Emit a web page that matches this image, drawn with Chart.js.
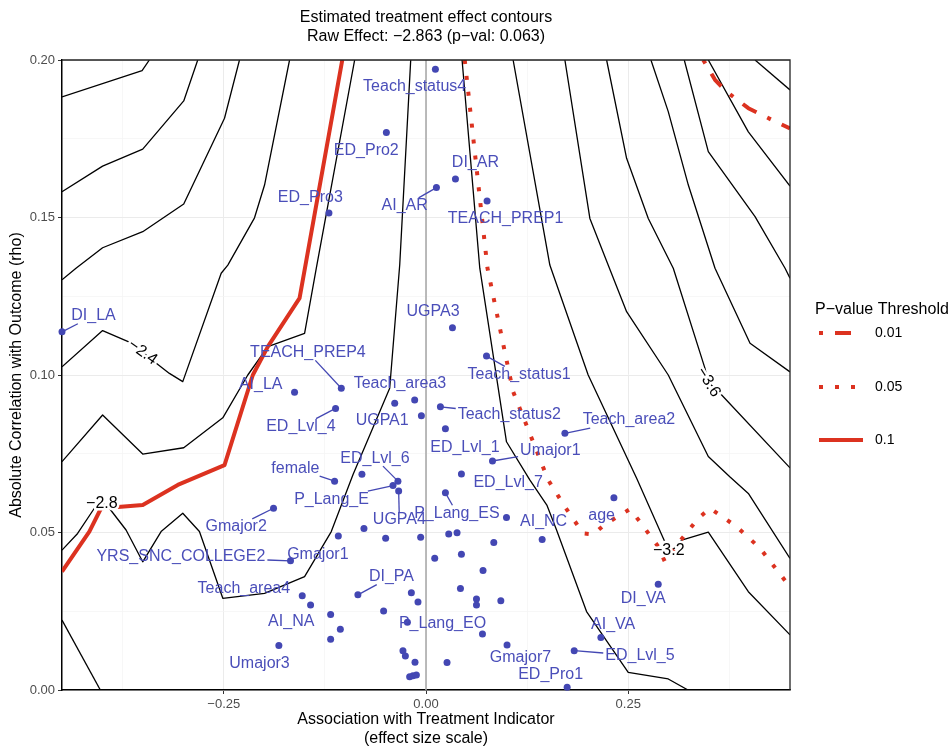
<!DOCTYPE html>
<html><head><meta charset="utf-8">
<script src="https://cdn.jsdelivr.net/npm/chart.js@4"></script>
<style>html,body{margin:0;padding:0;background:#fff}#wrap{width:951px;height:748px}</style>
</head><body><div id="wrap"><canvas id="c" width="951" height="748"></canvas></div>
<script>
// ---------------- DATA ----------------
const covName = ['Teach_status4','ED_Pro2','DI_AR','AI_AR','TEACH_PREP1','ED_Pro3','DI_LA','UGPA3','Teach_status1','TEACH_PREP4',
 'AI_LA','Teach_area3','UGPA1','','Teach_status2','ED_Lvl_4','Teach_area2','ED_Lvl_1','Umajor1','ED_Lvl_7',
 '','female','ED_Lvl_6','P_Lang_E','UGPA4','P_Lang_ES','age','Gmajor2','','',
 'Gmajor1','','','','','','AI_NC','YRS_SNC_COLLEGE2','','',
 '','DI_PA','','','','','','','','',
 'Teach_area4','AI_NA','','','P_Lang_EO','','Gmajor7','','','',
 '','','','','Umajor3','DI_VA','AI_VA','ED_Lvl_5','ED_Pro1'];
const treatAssoc = [0.0116,-0.049,0.0364,0.0129,0.0755,-0.12,-0.45,0.0327,0.0748,-0.1047,
 -0.1625,-0.014,-0.0387,-0.0057,0.0178,-0.1118,0.1717,0.024,0.0822,0.0438,
 -0.0792,-0.113,-0.0347,-0.0408,-0.0338,0.024,0.2323,-0.1885,0.0995,-0.0767,
 -0.1084,-0.0499,-0.0066,0.0281,0.0384,0.0838,0.1436,-0.1675,0.0108,0.0438,
 0.0705,-0.0842,-0.0181,-0.0099,0.0426,0.0624,0.0624,0.0925,-0.0524,-0.1179,
 -0.153,-0.1427,-0.1059,-0.1179,-0.023,0.0698,0.1002,-0.0285,-0.0255,-0.0136,
 0.026,-0.0202,-0.0161,-0.0119,-0.1819,0.2871,0.2162,0.1832,0.1745];
const outcomeCorr = [0.1971,0.1770,0.1622,0.1595,0.1552,0.1514,0.1137,0.1150,0.1060,0.0958,
 0.0945,0.0921,0.0910,0.0871,0.0899,0.0894,0.0815,0.0829,0.0727,0.0686,
 0.0685,0.0663,0.0663,0.0649,0.0632,0.0626,0.0610,0.0577,0.0548,0.0513,
 0.0489,0.0482,0.0485,0.0495,0.0499,0.0468,0.0478,0.0410,0.0418,0.0431,
 0.0379,0.0302,0.0309,0.0279,0.0322,0.0289,0.0270,0.0283,0.0251,0.0240,
 0.0299,0.0270,0.0193,0.0161,0.0215,0.0178,0.0143,0.0125,0.0108,0.0088,
 0.0087,0.0042,0.0045,0.0048,0.0141,0.0336,0.0167,0.0125,0.0009];

// repelled label anchors (data units)
const labelName = ['Teach_status4','ED_Pro2','DI_AR','AI_AR','TEACH_PREP1','ED_Pro3','DI_LA','UGPA3','Teach_status1','TEACH_PREP4',
 'AI_LA','Teach_area3','UGPA1','Teach_status2','ED_Lvl_4','Teach_area2','ED_Lvl_1','Umajor1','ED_Lvl_7','female',
 'ED_Lvl_6','P_Lang_E','UGPA4','P_Lang_ES','age','Gmajor2','AI_NC','YRS_SNC_COLLEGE2','Gmajor1','Teach_area4',
 'AI_NA','Umajor3','DI_PA','P_Lang_EO','Gmajor7','ED_Pro1','DI_VA','AI_VA','ED_Lvl_5'];
const labelX = [-0.014,-0.0738,0.0611,-0.0264,0.0984,-0.143,-0.411,0.0087,0.1151,-0.146,
 -0.2043,-0.0322,-0.0542,0.103,-0.1547,0.2509,0.0481,0.1537,0.1015,-0.1615,
 -0.0631,-0.1168,-0.0329,0.0382,0.2171,-0.2347,0.1454,-0.303,-0.1337,-0.2252,
 -0.1666,-0.2058,-0.0427,0.0204,0.1168,0.1541,0.2686,0.2314,0.2645];
const labelY = [0.1915,0.1711,0.1675,0.1537,0.1497,0.1563,0.1188,0.1201,0.1002,0.1072,
 0.0968,0.0974,0.0854,0.0875,0.0836,0.0857,0.0769,0.0759,0.0659,0.0704,
 0.0736,0.0606,0.0540,0.0561,0.0553,0.0518,0.0534,0.0423,0.0429,0.0323,
 0.0217,0.0085,0.0360,0.0212,0.0103,0.0050,0.0291,0.0209,0.0108];
const labelSegment = [0,0,0,1,0,0,1,0,1,1, 0,0,0,1,1,1,0,1,0,1, 1,1,1,1,0,1,0,1,0,0, 0,0,1,0,0,0,0,0,1];

// contour lines of the estimated effect
const contour_m1_8 = [[-0.45,0.1883],[-0.351,0.1966],[-0.342,0.2]];
const contour_m2_0 = [[-0.45,0.1582],[-0.3998,0.1663],[-0.3502,0.1717],[-0.2995,0.187],[-0.2822,0.2]];
const contour_m2_2 = [[-0.45,0.1302],[-0.4327,0.1339],[-0.3998,0.1404],[-0.3502,0.1455],[-0.2995,0.1543],[-0.2491,0.1815],[-0.2306,0.2]];
const contour_m2_4 = [[-0.45,0.1026],[-0.3998,0.1141],[-0.3646,0.1102],[-0.3358,0.1042],[-0.3172,0.1005],[-0.3007,0.0979],[-0.2532,0.1323],[-0.245,0.1349],[-0.212,0.1499],[-0.1996,0.1603],[-0.1687,0.2]];
const contour_m2_6 = [[-0.45,0.0725],[-0.3998,0.0873],[-0.3502,0.0749],[-0.2995,0.0769],[-0.2512,0.0864],[-0.2203,0.1],[-0.1955,0.109],[-0.1501,0.1132],[-0.1356,0.1339],[-0.0882,0.2]];
const contour_m2_8 = [[-0.45,0.0444],[-0.4307,0.0497],[-0.41,0.0577],[-0.3998,0.0593],[-0.3915,0.0577],[-0.3708,0.0508],[-0.3502,0.0407],[-0.3275,0.0503],[-0.3007,0.0561],[-0.2801,0.0503],[-0.2512,0.0291],[-0.1996,0.0307],[-0.1501,0.036],[-0.1171,0.0503],[-0.0903,0.0683],[-0.0449,0.0958],[-0.0325,0.1349],[-0.0189,0.2]];
const contour_m3_0a = [[-0.45,0.0222],[-0.4026,0]];
const contour_m3_0 = [[0.0446,0.2],[0.0665,0.1339],[0.0995,0.0788],[0.1283,0.0667],[0.1494,0.0587],[0.1614,0.0508],[0.1985,0.0249],[0.25,0.0056],[0.2995,0.0035],[0.3239,0]];
const contour_m3_2 = [[0.1077,0.2],[0.1531,0.1349],[0.2005,0.1],[0.2604,0.0672],[0.2933,0.0482],[0.3016,0.0435],[0.3161,0.0476],[0.349,0.0501],[0.3985,0.0312],[0.45,0.0175]];
const contour_m3_4 = [[0.1717,0.2],[0.2026,0.1497],[0.2252,0.1349],[0.248,0.1201],[0.2995,0.1],[0.349,0.0741],[0.3759,0.0676],[0.3985,0.0624],[0.45,0.0418]];
const contour_m3_6 = [[0.2233,0.2],[0.248,0.1688],[0.2748,0.1497],[0.3057,0.1339],[0.3449,0.1021],[0.3486,0.0978],[0.3635,0.0942],[0.45,0.0705]];
const contour_m3_8 = [[0.2781,0.2],[0.2995,0.1836],[0.3243,0.1603],[0.3573,0.1339],[0.4006,0.1101],[0.45,0.101]];
const contour_m4_0 = [[0.3193,0.2],[0.349,0.1709],[0.4068,0.1503],[0.4439,0.1339],[0.45,0.1307]];
const contour_m4_2 = [[0.349,0.2],[0.3985,0.1772],[0.45,0.16]];
const contour_m4_4 = [[0.4068,0.2],[0.45,0.1905]];

// p-value threshold contours
const pval_001 = [[0.3428,0.2],[0.3573,0.1937],[0.3718,0.1899],[0.3985,0.1847],[0.4275,0.181],[0.45,0.1783]];
const pval_005 = [[0.0479,0.2],[0.076,0.1339],[0.0871,0.1201],[0.1077,0.0947],[0.1324,0.0788],[0.151,0.0667],[0.1717,0.0582],[0.1943,0.0497],[0.2067,0.0494],[0.2212,0.0526],[0.2521,0.0574],[0.2645,0.0534],[0.2871,0.0455],[0.2954,0.0407],[0.3119,0.0466],[0.3366,0.0545],[0.3511,0.0577],[0.3842,0.0518],[0.413,0.045],[0.45,0.0327]];
const pval_010 = [[-0.45,0.0376],[-0.4162,0.0503],[-0.4017,0.0577],[-0.377,0.0582],[-0.3502,0.0587],[-0.3069,0.0651],[-0.2491,0.0714],[-0.2141,0.1],[-0.1955,0.109],[-0.1563,0.1244],[-0.1035,0.2]];
const pThresholdLabels = ['0.01','0.05','0.1'];

// contour text labels
const contourLabelText = ['−2.4','−2.8','−3.2','−3.6'];
const contourLabelX = [-0.3502,-0.4007,0.3001,0.349];
const contourLabelY = [0.1072,0.0593,0.0441,0.0977];

// axes
const xMajorTicks = [-0.25,0,0.25];
const xTickLabels = ['−0.25','0.00','0.25'];
const xMinorTicks = [-0.375,-0.125,0.125,0.375];
const yMajorTicks = [0,0.05,0.1,0.15,0.2];
const yTickLabels = ['0.00','0.05','0.10','0.15','0.20'];
const yMinorTicks = [0.025,0.075,0.125,0.175];

const titleLines = ['Estimated treatment effect contours','Raw Effect: −2.863 (p−val: 0.063)'];
const xTitleLines = ['Association with Treatment Indicator','(effect size scale)'];
const yTitle = 'Absolute Correlation with Outcome (rho)';
const legendTitle = 'P−value Threshold';

// ---------------- STYLE ----------------
const FONT = '"Liberation Sans", Arial, Helvetica, sans-serif';
const BLUE = '#4347B3';
const BLUE_TXT = '#4A4EB9';
const RED = '#DC3220';
const DASH_01 = [4,12,16,12];
const DASH_05 = [4,12];
const contourAngles = [35, 0, 0, 58];

const isMajor = (arr, v) => arr.some(m => Math.abs(m - v) < 1e-9);

function lineDS(data, color, width, dash, order){
  return {data: data.map(p => ({x:p[0], y:p[1]})), showLine:true, borderColor:color, borderWidth:width,
    borderDash:dash||[], borderCapStyle:'butt', borderJoinStyle:'round', pointRadius:0, pointHoverRadius:0,
    backgroundColor:color, fill:false, tension:0, order:order};
}

const datasets = [
  {data: treatAssoc.map((x,i)=>({x:x, y:outcomeCorr[i]})), pointRadius:3.5, pointHoverRadius:3.5,
   backgroundColor:BLUE, borderWidth:0, showLine:false, order:0, clip:false},
  lineDS(pval_010, RED, 4, [], 1),
  lineDS(pval_005, RED, 4, DASH_05, 1),
  lineDS(pval_001, RED, 4, DASH_01, 1),
];
[contour_m1_8,contour_m2_0,contour_m2_2,contour_m2_4,contour_m2_6,contour_m2_8,contour_m3_0a,contour_m3_0,
 contour_m3_2,contour_m3_4,contour_m3_6,contour_m3_8,contour_m4_0,contour_m4_2,contour_m4_4]
 .forEach(c => datasets.push(lineDS(c, '#000', 1.3, [], 2)));
datasets.push(lineDS([[0,0],[0,0.2]], '#ABABAB', 1.6, [], 3));

const decorPlugin = {
  id:'decor',
  beforeDraw(chart){
    const ctx = chart.ctx;
    ctx.save(); ctx.fillStyle = '#fff'; ctx.fillRect(0,0,chart.width,chart.height); ctx.restore();
  },
  afterDatasetsDraw(chart){
    const ctx = chart.ctx, xs = chart.scales.x, ys = chart.scales.y;
    // contour labels
    ctx.save();
    ctx.font = '16px ' + FONT; ctx.textAlign = 'center'; ctx.textBaseline = 'middle';
    contourLabelText.forEach((t,i) => {
      const px = xs.getPixelForValue(contourLabelX[i]), py = ys.getPixelForValue(contourLabelY[i]);
      ctx.save(); ctx.translate(px, py); ctx.rotate(contourAngles[i]*Math.PI/180);
      ctx.lineWidth = 5; ctx.strokeStyle = '#fff'; ctx.lineJoin = 'round';
      ctx.strokeText(t, 0, 0); ctx.fillStyle = '#000'; ctx.fillText(t, 0, 0);
      ctx.restore();
    });
    ctx.restore();
    // point labels (repelled)
    ctx.save();
    ctx.font = '16px ' + FONT; ctx.textAlign = 'center'; ctx.textBaseline = 'middle';
    labelName.forEach((n,i) => {
      const k = covName.indexOf(n); if (k < 0) return;
      const lx = xs.getPixelForValue(labelX[i]), ly = ys.getPixelForValue(labelY[i]);
      const ptx = xs.getPixelForValue(treatAssoc[k]), pty = ys.getPixelForValue(outcomeCorr[k]);
      if (labelSegment[i]) {
        const hw = ctx.measureText(n).width/2 + 2, hh = 8;
        const dx = ptx - lx, dy = pty - ly;
        const t = Math.min(dx ? hw/Math.abs(dx) : 1e9, dy ? hh/Math.abs(dy) : 1e9);
        if (t < 1) {
          ctx.strokeStyle = BLUE; ctx.lineWidth = 1.3;
          ctx.beginPath(); ctx.moveTo(ptx, pty); ctx.lineTo(lx + dx*t, ly + dy*t); ctx.stroke();
        }
      }
      ctx.fillStyle = BLUE_TXT; ctx.fillText(n, lx, ly);
    });
    ctx.restore();
  },
  afterDraw(chart){
    const ctx = chart.ctx, a = chart.chartArea;
    ctx.save();
    // frame (top/right)
    ctx.strokeStyle = '#222'; ctx.lineWidth = 1.3;
    ctx.beginPath(); ctx.moveTo(a.left, a.top); ctx.lineTo(a.right, a.top); ctx.lineTo(a.right, a.bottom); ctx.stroke();
    // titles
    const cx = (a.left + a.right)/2;
    ctx.fillStyle = '#000'; ctx.textAlign = 'center'; ctx.textBaseline = 'middle';
    ctx.font = '16px ' + FONT;
    ctx.fillText(titleLines[0], cx, 18); ctx.fillText(titleLines[1], cx, 37);
    ctx.fillText(xTitleLines[0], cx, 720); ctx.fillText(xTitleLines[1], cx, 739);
    ctx.save(); ctx.translate(17, (a.top + a.bottom)/2); ctx.rotate(-Math.PI/2);
    ctx.fillText(yTitle, 0, 0); ctx.restore();
    // legend
    ctx.textAlign = 'left';
    ctx.fillText(legendTitle, 815, 310);
    const dashes = [DASH_01, DASH_05, []], ly = [333, 387, 440];
    pThresholdLabels.forEach((t,i) => {
      ctx.strokeStyle = RED; ctx.lineWidth = 4; ctx.lineCap = 'butt'; ctx.setLineDash(dashes[i]);
      ctx.beginPath(); ctx.moveTo(819, ly[i]); ctx.lineTo(863, ly[i]); ctx.stroke(); ctx.setLineDash([]);
      ctx.font = '14px ' + FONT; ctx.fillStyle = '#000'; ctx.fillText(t, 875, ly[i]);
    });
    ctx.restore();
  }
};

new Chart(document.getElementById('c'), {
  type:'scatter',
  data:{datasets},
  options:{
    responsive:false, animation:false, devicePixelRatio:1, events:[],
    layout:{padding:{top:60, right:161, left:0, bottom:0}},
    plugins:{legend:{display:false}, tooltip:{enabled:false}, title:{display:false}},
    scales:{
      x:{type:'linear', min:-0.45, max:0.45,
        afterBuildTicks: s => { s.ticks = xMajorTicks.concat(xMinorTicks).sort((p,q)=>p-q).map(v=>({value:v})); },
        afterFit: s => { s.height = 58; },
        ticks:{autoSkip:false, maxRotation:0, padding:3, color:'#4D4D4D', font:{family:FONT, size:13},
          callback: v => { const j = xMajorTicks.findIndex(m => Math.abs(m-v)<1e-9); return j>=0 ? xTickLabels[j] : ''; }},
        grid:{color: c => isMajor(xMajorTicks, c.tick.value) ? '#EBEBEB' : '#F4F4F4',
          lineWidth: c => isMajor(xMajorTicks, c.tick.value) ? 1 : 0.7,
          tickColor: c => isMajor(xMajorTicks, c.tick.value) ? '#333' : 'rgba(0,0,0,0)', tickLength:4},
        border:{display:true, color:'#000', width:1.5}
      },
      y:{type:'linear', min:0, max:0.2,
        afterBuildTicks: s => { s.ticks = yMajorTicks.concat(yMinorTicks).sort((p,q)=>p-q).map(v=>({value:v})); },
        afterFit: s => { s.width = 62; },
        ticks:{autoSkip:false, padding:3, color:'#4D4D4D', font:{family:FONT, size:13},
          callback: v => { const j = yMajorTicks.findIndex(m => Math.abs(m-v)<1e-9); return j>=0 ? yTickLabels[j] : ''; }},
        grid:{color: c => isMajor(yMajorTicks, c.tick.value) ? '#EBEBEB' : '#F4F4F4',
          lineWidth: c => isMajor(yMajorTicks, c.tick.value) ? 1 : 0.7,
          tickColor: c => isMajor(yMajorTicks, c.tick.value) ? '#333' : 'rgba(0,0,0,0)', tickLength:4},
        border:{display:true, color:'#000', width:1.5}
      }
    }
  },
  plugins:[decorPlugin]
});
</script></body></html>
